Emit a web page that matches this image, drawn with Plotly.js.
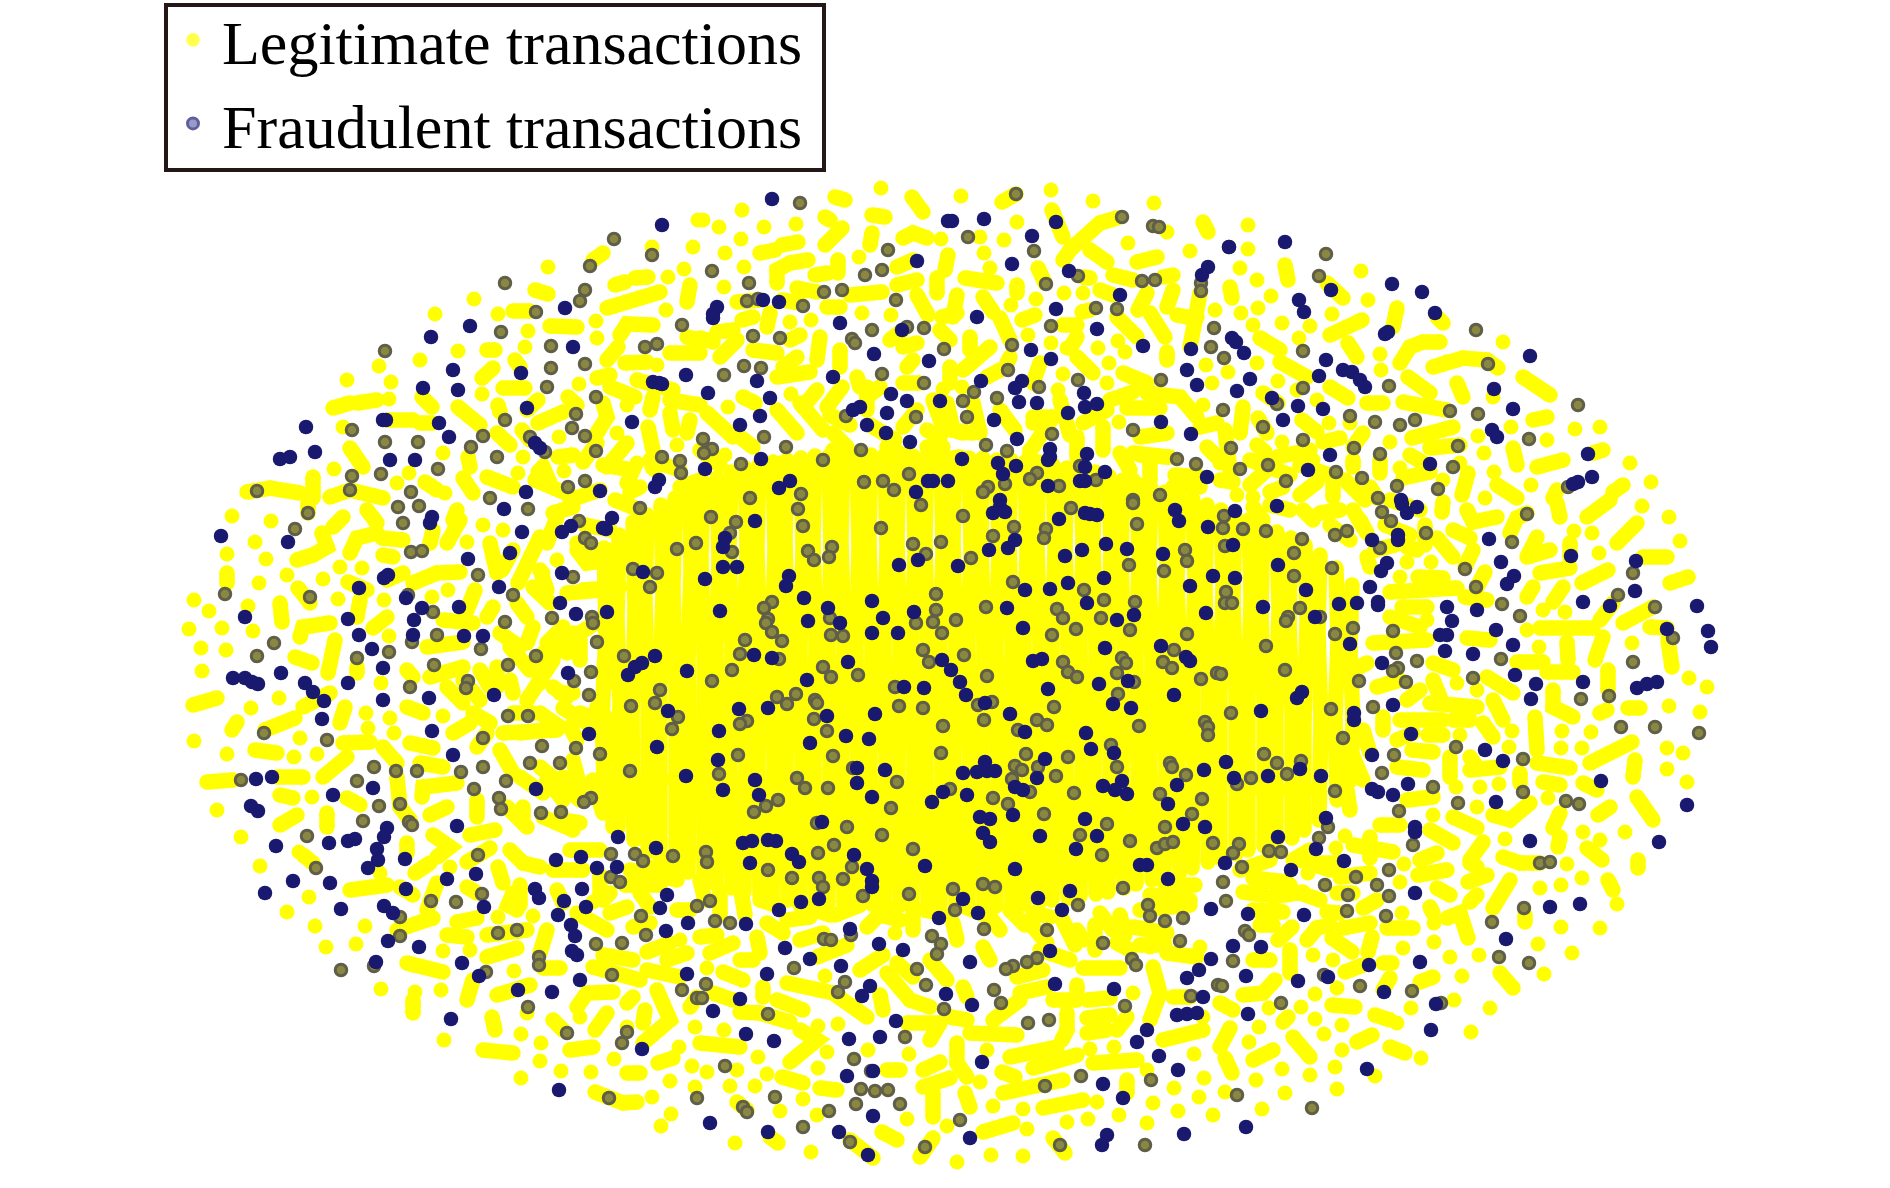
<!DOCTYPE html>
<html><head><meta charset="utf-8">
<script src="https://cdn.plot.ly/plotly-3.0.1.min.js"></script>
<style>html,body{margin:0;padding:0;background:#fff;overflow:hidden}#c{width:1890px;height:1195px;margin-top:-7px}</style>
</head><body><div id="c"></div>
<script>
const seriesNames = ["Legitimate transactions","Fraudulent transactions"];

const legitimateDots = [548,267,474,299,435,314,652,247,693,247,684,269,668,277,666,310,498,314,528,331,596,321,597,338,458,351,420,360,525,347,379,366,347,380,391,382,389,399,482,394,579,384,559,437,617,433,637,463,677,445,564,471,518,473,334,469,397,483,409,473,523,457,443,453,698,220,627,405,657,365,343,427,445,493,
881,188,961,196,1051,190,1093,201,1154,203,742,210,796,224,764,227,719,227,703,220,741,239,1017,222,1004,240,941,239,984,253,990,268,1128,243,1190,251,859,257,744,267,724,287,1036,299,1011,305,1064,293,862,313,891,315,790,322,811,320,1028,335,1098,348,1109,363,1063,374,1107,383,1058,390,1206,365,1203,405,1119,422,1083,293,1067,348,1051,343,1118,341,943,389,962,387,728,407,791,394,725,455,780,463,980,237,725,253,1167,232,1215,310,1125,352,1212,383,
232,516,271,521,255,542,227,554,266,559,287,575,259,583,323,579,340,567,362,568,194,600,209,611,248,606,338,599,189,629,222,628,253,631,201,648,226,650,202,671,389,636,384,600,279,698,251,708,366,713,390,718,368,728,394,733,443,716,300,738,194,741,227,754,294,757,317,754,381,683,312,797,217,810,483,525,467,542,448,590,432,597,503,530,557,560,543,573,520,813,
1642,506,1669,517,1680,541,1592,533,1599,553,1574,531,1431,562,1407,562,1400,577,1688,577,1689,678,1707,687,1669,706,1700,712,1632,643,1539,647,1543,610,1565,612,1457,683,1512,731,1509,747,1562,731,1591,732,1561,748,1582,748,1667,748,1667,769,1687,782,1499,784,1480,787,1456,787,1527,630,1427,620,1600,713,1477,690,1460,735,1683,753,1548,798,1433,815,1477,807,
241,837,260,866,299,852,309,897,287,912,315,926,365,926,326,947,356,944,381,989,441,990,415,992,444,1040,443,951,498,917,533,916,514,971,521,1034,541,1043,540,1061,521,1078,561,1071,591,1072,614,1059,679,1047,692,1066,670,1081,652,1097,671,1114,661,1126,380,873,450,867,470,950,527,1013,580,1017,627,1027,593,902,680,940,697,853,695,1027,695,1087,
735,1143,811,1152,991,1155,1023,1156,957,1162,1147,1123,1119,1115,1088,1119,1067,1122,1027,1129,993,1106,1023,1109,1097,1102,1153,1103,1178,1111,1213,1115,1199,1097,1174,1088,1204,1078,1194,1054,907,1119,780,1111,803,1099,730,1086,755,1086,767,1074,818,1068,758,1057,868,1050,909,1054,838,1024,818,1026,724,1030,895,933,707,968,1090,1049,1114,1047,947,1126,707,1072,825,976,737,1070,827,1052,980,1082,987,1050,817,1115,1147,1070,1133,993,1203,1017,1200,947,1150,947,
1505,839,1625,832,1583,832,1561,885,1582,878,1567,864,1540,888,1617,904,1600,928,1561,927,1538,944,1572,953,1544,974,1479,955,1450,957,1462,976,1434,942,1454,1000,1490,1008,1471,1032,1411,1008,1421,1058,1397,1023,1342,1025,1315,1019,1324,1034,1342,1050,1301,1007,1315,994,1337,988,1249,1042,1259,1027,1282,1069,1310,1075,1335,1067,1256,1080,1285,1093,1337,1089,1262,1109,1375,1076,1404,864,1400,882,1308,873,1336,848,1345,836,1403,948,1434,923,1225,1092,1269,1008,1600,840,1402,913,1313,955,1333,960,
1248,225,1248,249,1361,271,1240,268,1271,296,1368,300,1282,323,1310,326,1299,338,1503,342,1380,354,1381,370,1630,463,1651,482,1600,427,1575,429,1511,427,1478,436,1547,440,1484,453,1494,472,1531,485,1400,468,1390,442,1329,423,1282,442,1241,313,1253,325,1332,314,1258,308,1228,372,1278,381,1485,498,1257,280,1493,397,1257,363,1297,390,1317,400,1350,423,1460,463,1443,480,1313,460,1237,495,1253,497,1220,463];

const legitimateRuns = [[593,260,603,253],[615,285,625,282],[635,278,648,277],[607,308,660,292],[690,285,687,302],[535,290,548,294],[513,311,530,311],[550,326,577,327],[620,335,627,324,653,325],[687,337,700,340],[607,360,618,347],[625,363,647,362],[482,378,493,368],[487,350,495,350],[515,360,520,367],[503,388,525,388],[597,378,610,375],[610,387,635,397],[637,380,673,390],[653,397,650,410],[670,400,700,405],[670,413,673,430],[648,427,653,450],[690,420,687,433],[627,443,607,467],[670,353,700,353],[333,408,350,403],[357,403,377,400],[422,397,432,407],[388,420,413,420],[420,423,433,423],[458,407,480,425],[498,405,500,412],[538,400,527,410],[538,423,563,412],[568,397,577,405],[603,403,607,417,597,433],[522,430,530,440],[497,433,510,445],[558,457,573,455],[538,472,543,467,550,483],[583,462,597,443],[603,465,633,470,627,483],[652,467,655,470],[350,448,363,467],[468,457,470,467],[487,477,513,487],[425,482,437,490],[463,478,473,493],[313,477,313,498],[247,492,270,488,300,493],[330,497,350,490,383,498],[630,492,640,487],[680,487,700,480],
[835,197,845,200],[912,197,923,212],[872,215,885,217],[825,217,830,220],[842,228,825,245],[872,233,870,245],[903,238,913,233,927,238],[1052,210,1063,237],[1002,202,1016,194],[1063,260,1070,250,1100,223,1117,218],[1090,250,1107,262],[1203,222,1208,232],[1137,262,1157,257],[760,253,775,250],[782,245,798,242],[777,283,777,270,790,263,808,260],[815,275,828,273],[838,260,838,273],[897,267,913,260],[897,285,917,280],[948,255,945,270],[937,278,937,293],[965,278,997,283],[957,295,953,317],[983,297,993,312],[1017,285,1017,293],[1038,268,1045,283],[1113,275,1133,280],[1163,277,1173,275],[1173,290,1167,307],[1147,293,1138,310],[1083,277,1090,278],[1100,290,1113,295],[1082,312,1090,310],[1200,293,1197,317,1190,347],[1150,313,1165,337],[1117,317,1137,337],[1177,315,1187,317],[917,295,928,315],[942,317,957,313],[1000,318,1010,340],[1022,320,1035,315],[1063,325,1077,325],[1077,337,1070,348],[797,288,817,292],[850,295,882,292],[827,307,840,307],[737,302,760,300],[782,300,800,303],[742,320,753,317],[770,313,767,327],[717,332,733,330],[700,338,713,342],[800,335,790,340],[720,357,737,340],[753,350,777,353],[797,357,783,367],[820,337,817,360],[840,350,840,367],[777,377,810,372],[903,330,890,340],[903,347,917,343],[907,367,913,360],[903,383,920,383],[857,377,860,387],[880,387,867,397],[842,387,827,407],[817,390,803,407],[940,330,950,340],[970,337,970,350],[990,347,963,370],[950,367,950,383],[987,377,1000,370],[1010,357,1007,363],[1040,363,1033,383],[1077,357,1093,373],[1123,373,1147,383],[1110,400,1133,392],[1147,393,1180,397,1197,417],[1127,408,1160,408],[1140,437,1167,433],[1140,455,1170,457],[1167,352,1167,360],[1175,475,1200,477],[1200,427,1217,423],[1207,447,1217,457],[947,403,953,430,973,433],[1033,423,1047,420],
[308,503,308,513],[343,517,333,527],[367,510,377,523],[322,533,327,547,313,555,297,560],[227,573,227,583],[350,553,357,538,377,533],[382,538,403,540],[383,555,393,557],[348,582,367,590],[403,573,387,580],[298,588,310,603],[280,603,282,622],[387,617,373,628],[300,637,303,627,330,623],[295,657,312,663],[335,640,328,673],[357,667,357,673],[360,600,357,617],[413,583,437,573,460,572],[427,647,463,642],[443,620,473,623],[475,590,467,610],[493,607,487,617],[490,543,493,557,497,573],[453,520,457,510],[447,543,460,520],[433,530,430,543],[407,670,413,677],[430,677,463,667],[447,687,463,703],[473,713,490,723],[453,733,470,723],[477,747,487,733],[407,707,423,713],[410,743,433,748],[383,747,397,763],[420,763,443,767],[343,743,370,742],[323,777,347,757],[207,782,233,780],[277,777,303,777],[193,705,217,698],[232,730,237,722],[265,730,295,718],[255,750,277,753],[280,795,293,798],[347,798,360,805],[280,825,297,815],[327,813,327,827],[345,707,340,723],[330,693,303,707],[397,777,400,807,410,820],[422,797,423,787,457,783],[430,815,447,807],[477,800,477,817],[503,733,557,730],[500,750,513,773],[540,767,580,800],[523,807,523,817],[560,693,573,693],[563,708,593,727],[570,727,577,740],[500,633,520,647],[533,627,527,643],[527,700,540,683,553,660],[560,637,553,657],[533,587,550,603],[517,603,527,617],[577,550,587,563,610,560],[567,593,600,590],[518,583,540,537],[502,570,513,550],[553,513,573,507],[573,633,567,653],[513,693,510,680],[600,620,580,633],[610,663,610,683],[597,707,617,730],[593,780,603,813],[563,777,580,790],[563,820,580,823],[613,777,613,827],
[1467,510,1473,522,1497,517],[1443,502,1442,512],[1453,530,1470,538],[1437,538,1453,557],[1473,550,1465,567],[1510,533,1517,518,1527,513],[1557,503,1560,517],[1587,517,1610,500],[1617,543,1637,523],[1537,537,1527,557,1550,550],[1570,543,1570,557],[1643,557,1667,557],[1540,573,1570,568],[1582,583,1608,570],[1670,583,1688,577],[1418,577,1443,578],[1390,592,1457,588],[1402,607,1427,607],[1485,572,1477,587],[1465,597,1487,600],[1527,597,1533,587],[1553,602,1563,587],[1600,620,1613,603],[1623,623,1653,607],[1650,627,1667,628],[1540,628,1593,628],[1668,640,1672,667],[1603,637,1595,660],[1567,642,1568,660],[1467,638,1490,640],[1517,662,1543,662],[1547,672,1573,672],[1608,670,1608,690],[1487,677,1513,693],[1433,663,1453,670],[1433,680,1440,697],[1430,703,1477,707],[1493,700,1503,720],[1553,690,1553,707,1573,717],[1628,708,1640,708],[1600,713,1607,710],[1535,717,1537,750],[1400,720,1443,720],[1453,720,1470,720],[1428,735,1443,735],[1483,723,1493,737],[1412,750,1433,752],[1470,757,1477,767],[1450,757,1450,777],[1397,767,1423,770],[1470,770,1500,767],[1537,763,1570,768],[1520,773,1520,783],[1543,782,1560,785],[1590,763,1632,742],[1635,760,1633,777],[1583,783,1597,790],[1637,797,1653,820],[1598,815,1610,807],[1560,813,1553,828],[1493,815,1510,820,1530,803],[1453,817,1477,828],[1407,800,1433,797],[1380,825,1400,825],[1363,730,1370,753],[1353,757,1363,780],[1347,790,1350,810],[1383,717,1383,730],[1397,740,1413,733],[1337,743,1340,760],[1390,617,1420,627],[1373,643,1427,640],[1377,687,1400,680],[1407,700,1420,690],[1347,673,1367,663],[1370,567,1367,557],[1360,520,1367,533],[1407,547,1417,550],
[303,855,313,863],[407,843,407,853],[433,835,450,847,437,857],[415,873,430,863],[350,890,387,885],[400,887,413,895],[437,883,427,910],[467,862,490,848],[467,887,477,893],[498,867,503,883],[510,850,523,863,540,867],[513,893,508,905,517,910],[397,930,433,918],[457,922,477,918],[447,935,467,937],[487,957,517,948],[487,935,527,930],[407,963,413,965,443,972],[547,930,540,953],[543,968,560,968],[467,1000,473,980],[497,995,530,985],[413,1000,413,1013],[492,1017,495,1030],[483,1050,513,1053],[570,1050,593,1047],[553,1020,563,1030],[577,1007,587,993,613,992],[595,1030,607,1013],[627,1003,633,997],[643,1043,670,1020,657,990],[645,1010,643,1023],[658,1063,673,1058],[627,1073,640,1073],[595,1092,623,1103,637,1102],[553,870,583,870],[557,890,563,903],[577,913,607,930],[603,900,610,893],[610,913,627,907],[633,927,650,923],[603,955,633,960],[593,967,640,980],[647,952,670,943],[667,960,687,953],[647,970,680,977],[630,870,677,880],[640,893,650,907],[677,910,690,910],[690,1007,697,997],
[700,1043,740,1047],[740,1012,760,1013,790,1022],[777,1000,803,1010],[787,983,833,993,867,1017],[713,993,733,1000],[723,972,743,980],[763,987,763,997],[710,953,733,943],[700,937,717,935],[740,960,753,960],[757,937,760,953],[767,923,783,933],[787,920,810,917],[800,940,823,933],[817,957,847,945],[800,1030,817,1040,790,1062],[782,1077,803,1083],[820,1088,837,1090],[737,1102,747,1110],[770,1137,778,1143],[850,1140,873,1158],[882,1132,897,1140],[920,1157,933,1138],[923,1070,940,1062],[887,1070,900,1070],[923,1087,950,1078],[933,1093,933,1117],[957,1043,957,1063,967,1077],[965,1093,970,1107],[1002,1072,1015,1077],[970,1033,1017,1035],[1010,1057,1057,1047],[1033,1068,1077,1055],[1003,1093,1063,1080],[1043,1108,1083,1100],[983,1132,1013,1123],[1053,1138,1065,1153],[1093,1063,1137,1060],[1087,1033,1107,1030],[1087,1018,1110,1015],[1087,1000,1110,998],[1077,985,1077,990],[1083,968,1120,968],[1053,1000,1077,1000],[1067,1013,1067,1030,1062,1040],[993,1020,1020,1000],[1020,993,1047,987],[1017,977,1043,970],[1153,967,1160,993,1150,1020],[1117,1030,1127,1017],[1127,1080,1127,1093],[1163,1040,1203,1030],[1173,997,1190,997],[887,973,910,1000,930,1007],[880,995,883,1010],[907,1023,940,1023,930,1040],[860,970,883,955],[897,963,913,977],[930,960,947,980],[963,987,967,997],[950,1017,967,1020],[983,947,990,960],[1033,913,1050,917],[990,917,1000,930],[1100,913,1113,930],[1077,930,1083,940],[1117,943,1130,950],[1133,927,1167,933],[1167,953,1197,957],[1033,927,1047,943],[953,923,957,940],[913,907,913,930],[867,927,887,907],
[1560,837,1558,847],[1587,848,1602,860],[1638,860,1638,868],[1608,880,1613,890],[1503,857,1520,863,1540,863],[1470,860,1483,842],[1470,863,1477,867],[1468,882,1487,875],[1510,880,1493,908],[1470,902,1477,895],[1525,915,1525,922],[1447,918,1460,913,1468,938],[1430,907,1433,913],[1437,888,1450,895],[1418,875,1447,870],[1420,860,1437,853],[1430,830,1453,843],[1353,845,1393,852],[1370,837,1370,858],[1340,877,1370,873],[1313,863,1340,863],[1293,860,1310,850],[1300,893,1320,900],[1272,897,1303,892],[1243,892,1263,895],[1253,878,1287,882],[1253,910,1283,912],[1260,925,1273,925],[1278,940,1292,927],[1307,940,1317,928,1330,925],[1327,912,1340,913],[1337,893,1353,893],[1363,908,1377,900],[1343,928,1370,923],[1332,938,1352,952],[1372,937,1368,952],[1387,928,1413,928],[1290,950,1290,973],[1253,960,1270,960],[1243,995,1263,993,1275,980],[1220,1003,1233,1010],[1345,972,1363,965],[1383,963,1392,963],[1390,978,1383,990],[1420,982,1433,977],[1500,973,1513,988],[1332,1005,1355,1007],[1375,1015,1390,1020],[1283,1022,1288,1017],[1293,1037,1310,1057],[1357,1042,1372,1035],[1390,1047,1405,1053],[1230,1028,1220,1047],[1253,1060,1273,1050],[1225,1058,1232,1073],
[1285,265,1288,280],[1327,283,1343,298],[1230,287,1232,298],[1397,308,1393,327],[1437,317,1443,323],[1330,335,1362,320],[1348,343,1357,357],[1260,338,1280,350],[1400,363,1410,347,1423,342,1440,342],[1408,377,1430,393],[1433,367,1447,362,1463,358,1487,360,1498,368],[1457,383,1463,397],[1523,377,1550,395],[1280,362,1307,377],[1330,387,1348,398],[1367,403,1383,403],[1403,402,1447,410],[1263,393,1278,403],[1243,407,1240,433],[1258,418,1267,433],[1302,420,1317,432],[1323,442,1340,438],[1363,433,1353,447],[1412,438,1453,427],[1430,448,1460,445],[1533,420,1547,417],[1513,448,1517,465],[1537,467,1563,460],[1593,453,1603,450],[1613,492,1623,485],[1410,455,1427,465],[1468,473,1462,495],[1403,478,1430,472],[1257,445,1265,452],[1277,457,1310,450],[1250,485,1270,467],[1270,492,1283,487],[1300,495,1317,482],[1333,480,1333,497],[1353,460,1353,467],[1380,460,1380,473],[1370,487,1377,498],[1497,485,1517,498],[1557,490,1553,498],[1220,480,1233,482]];

const legitimateBand = [[777,410,797,433],[800,403,823,430],[833,433,847,447],[740,437,753,447],[707,413,733,437],[743,397,755,403],[867,387,867,410],[903,427,917,410],[927,430,940,437],[933,400,943,427,963,433],[973,403,980,433],[1033,417,1053,417,1033,447],[1083,423,1107,410],[1103,427,1103,450],[1077,437,1077,457],[1120,453,1130,470],[1030,450,1030,463],[887,447,913,460],[833,450,847,450],[837,463,873,463],[927,447,943,447],[920,463,960,457],[987,463,987,487],[1133,453,1167,457],[1150,463,1150,480],[1173,487,1200,487],[1133,480,1140,498],[830,415,850,425],[870,425,895,440],[1000,410,1015,430],[1060,400,1070,435],[650,460,680,470],[700,450,720,465],
[1225,430,1230,470],[1253,507,1263,520],[1303,510,1313,520],[1320,513,1340,510],[1353,510,1363,527],[1250,460,1290,475],[1300,465,1330,475],[1345,480,1365,500],[1270,505,1290,510],[1390,500,1420,510],[1385,525,1410,535],[1375,550,1395,545],[1425,525,1425,545],[1330,525,1350,540],
[557,517,547,543],[577,543,600,560],[607,550,630,557],[540,570,547,590],[583,590,620,587],[547,643,563,627],[580,640,580,660],[527,667,547,650],[553,687,567,697],[540,713,560,727],[520,733,543,730],[580,713,600,720],[547,780,563,800],[573,760,580,787],[610,733,610,757],[623,740,623,763],[520,777,543,793],[507,807,527,827],[543,817,573,830],[463,680,480,700],[497,667,497,687],[513,713,533,713],[510,647,530,670],[480,670,490,687],[570,500,600,490],[615,500,640,510],[535,480,570,495],[585,525,610,530],[470,835,495,830],
[1060,915,1075,945],[1040,950,1070,960],[1095,925,1095,950],[1120,915,1125,935],[1140,945,1165,945],[1260,880,1290,885],[1240,870,1270,860],[1300,860,1330,870],[600,875,600,895],[625,885,660,885],[570,850,600,850],[520,885,520,905],[640,870,680,862],[700,880,705,900],[720,890,720,915],[740,885,745,915],[760,900,775,905],[800,905,830,915],[835,915,860,905],[880,915,900,920],[925,910,945,915],[960,905,985,915],[1010,910,1025,925],[1150,895,1190,900],[1165,885,1195,885],[1140,910,1190,905]];

const legitimateCore = [[604,548,606,630,602,720,605,812],[619,535,617,620,620,700,618,828],[633,522,635,610,632,720,634,840],[647,515,645,600,648,700,646,780,648,852],[661,505,663,590,660,690,662,780,660,858],[675,498,673,590,676,680,674,780,676,866],[689,490,691,570,688,660,690,770,688,872],[703,482,701,560,704,650,702,770,704,878],[717,478,719,560,716,650,718,760,716,884],[731,472,729,550,732,650,730,760,732,888],[745,468,747,550,744,640,746,760,744,892],[759,465,757,550,760,650,758,770,760,895],[773,462,775,550,772,640,774,760,772,898],[787,460,785,540,788,640,786,770,788,900],[801,458,803,550,800,650,802,760,800,902],[815,456,813,540,816,640,814,770,816,902],[829,456,831,550,828,650,830,770,828,903],[843,455,841,540,844,640,842,760,844,903],[857,455,859,550,856,650,858,770,856,904],[871,455,869,540,872,650,870,760,872,904],[885,455,887,550,884,640,886,770,884,905],[899,456,897,540,900,650,898,770,900,905],[913,456,915,550,912,640,914,760,912,906],[927,456,925,540,928,650,926,770,928,906],[941,456,943,550,940,640,942,770,940,906],[955,458,953,540,956,650,954,760,956,906],[969,458,971,550,968,640,970,770,968,906],[983,458,981,540,984,650,982,760,984,906],[997,460,999,550,996,640,998,770,996,906],[1011,460,1009,540,1012,650,1010,770,1012,905],[1025,462,1027,550,1024,640,1026,760,1024,904],[1039,462,1037,540,1040,650,1038,770,1040,902],[1053,465,1055,550,1052,640,1054,770,1052,900],[1067,468,1065,540,1068,650,1066,760,1068,898],[1081,470,1083,550,1080,640,1082,770,1080,896],[1095,472,1093,540,1096,650,1094,770,1096,894],[1109,476,1111,550,1108,640,1110,760,1108,892],[1123,480,1121,560,1124,650,1122,770,1124,888],[1137,484,1139,560,1136,660,1138,770,1136,884],[1151,488,1149,570,1152,660,1150,760,1152,880],[1165,492,1167,570,1164,670,1166,770,1164,876],[1179,496,1177,580,1180,670,1178,770,1180,872],[1193,500,1195,580,1192,680,1194,770,1192,868],[1207,505,1205,590,1208,680,1206,780,1208,862],[1221,510,1223,590,1220,690,1222,780,1220,858],[1235,515,1233,600,1236,690,1234,780,1236,854],[1249,520,1251,600,1248,700,1250,790,1248,850],[1263,526,1261,610,1264,700,1262,790,1264,846],[1277,532,1279,610,1276,710,1278,790,1276,842],[1291,538,1289,620,1292,710,1290,790,1292,838],[1305,545,1307,620,1304,720,1306,790,1304,830],[1320,555,1318,630,1321,720,1319,820],[1336,568,1338,640,1335,720,1337,800],[1352,585,1350,650,1353,720,1351,780]];

const fraudSolid = [662,225,470,326,431,337,565,308,573,347,453,370,521,373,686,375,653,382,659,383,662,384,423,388,458,390,527,408,386,420,383,420,439,423,632,422,306,427,449,437,535,443,540,448,315,452,280,459,290,457,390,460,415,460,659,480,655,487,600,491,526,492,
772,199,948,221,952,221,984,219,1056,222,1032,236,917,261,1012,264,1069,271,1208,267,1202,275,763,300,779,302,1120,295,717,307,713,314,713,318,1056,309,977,317,840,323,902,330,1097,329,1031,350,1143,346,1191,349,874,354,929,361,1051,359,833,377,1187,370,757,381,981,381,1022,381,1015,388,1197,385,708,393,891,394,1084,393,770,398,907,401,940,401,1019,402,1037,403,1085,407,1097,404,860,407,853,410,1068,413,887,413,760,416,994,420,867,425,740,425,1161,422,1191,434,886,433,1017,439,910,442,1050,449,1050,457,1048,460,1087,454,761,459,962,459,705,469,998,463,1016,466,1003,474,1085,467,1207,477,1105,472,1080,481,1085,481,1048,486,790,481,779,488,933,481,928,481,948,481,916,492,1000,500,
1285,242,1229,247,1392,284,1422,292,1331,290,1299,300,1304,312,1435,313,1388,332,1385,334,1232,338,1236,342,1244,353,1326,360,1530,356,1343,370,1352,372,1360,380,1365,387,1319,376,1250,379,1237,391,1494,389,1272,398,1298,406,1323,409,1513,409,1283,420,1492,430,1497,437,1588,454,1330,455,1430,464,1308,470,1592,477,1578,482,1573,484,1401,500,
504,509,432,517,430,523,612,518,606,529,603,528,571,526,562,532,522,532,221,536,288,542,510,553,468,559,562,573,643,572,384,578,388,575,359,588,499,587,406,598,560,603,459,607,422,608,576,614,607,612,245,617,348,619,414,620,359,635,413,635,464,636,483,636,372,649,655,656,383,668,628,675,635,667,642,663,687,671,281,673,233,678,245,678,252,682,258,684,305,683,313,692,324,701,568,673,348,683,494,695,429,698,383,700,668,711,322,719,432,731,589,734,657,747,453,755,686,776,256,779,272,777,373,788,536,789,333,795,251,806,258,811,387,828,457,826,
755,521,993,513,1000,507,1005,512,1059,519,1085,513,1090,514,1097,515,1175,510,1179,521,1208,527,725,538,723,547,1015,540,1008,548,989,550,958,566,1106,544,1082,550,1127,549,1065,556,1163,554,918,560,899,565,723,567,737,567,705,579,789,576,786,586,1104,578,1213,576,1068,583,1190,586,1025,590,1050,589,804,598,872,601,1087,603,828,608,1007,608,720,611,914,612,1206,613,1134,615,1117,620,883,618,808,621,840,623,1023,628,872,633,898,633,1161,646,1105,648,754,655,772,658,1186,657,1190,661,942,660,848,662,1033,661,1042,659,951,670,807,680,960,682,1128,681,1099,684,1048,689,924,688,904,687,966,695,1174,695,985,703,1113,704,1131,708,739,709,768,708,1010,714,875,714,827,716,719,731,1025,732,1086,733,846,736,869,739,810,743,1091,749,1114,753,1045,759,718,760,985,762,963,773,977,772,995,771,987,771,857,768,885,770,1204,770,755,780,1037,778,857,783,1122,781,1103,786,1115,790,1127,794,1177,785,1015,787,1023,790,723,790,943,792,759,795,967,795,872,797,932,802,1168,804,1013,815,980,817,990,819,822,822,1085,819,1183,824,1205,827,
1235,511,1277,506,1372,540,1398,535,1398,540,1402,504,1407,513,1417,507,1489,539,1233,545,1278,565,1387,563,1381,571,1501,562,1571,556,1636,561,1235,578,1306,590,1370,587,1514,576,1507,584,1635,591,1583,602,1610,606,1697,606,1263,607,1339,604,1357,603,1378,602,1378,605,1447,607,1477,610,1315,617,1452,621,1667,629,1708,631,1711,647,1440,635,1447,635,1496,630,1350,644,1513,645,1445,651,1473,654,1382,663,1515,675,1536,684,1583,682,1637,688,1647,684,1657,682,1302,692,1297,698,1531,699,1393,705,1261,711,1354,713,1354,720,1411,734,1485,750,1372,755,1503,761,1226,762,1300,769,1268,776,1321,776,1234,778,1601,781,1408,784,1372,789,1378,792,1393,795,1496,802,1687,805,1326,818,1415,827,
276,846,329,843,348,841,355,839,384,837,377,849,378,860,368,868,405,859,618,837,556,860,581,857,617,867,597,868,656,848,476,874,447,879,293,881,330,883,406,889,535,889,539,898,582,889,265,893,667,895,564,901,484,907,586,907,341,909,384,906,393,913,660,908,558,915,688,923,571,925,575,936,666,931,388,941,419,947,572,951,577,955,376,962,462,963,479,976,687,974,580,980,518,990,552,992,451,1019,642,1049,559,1090,
743,843,752,841,768,840,776,841,792,854,799,862,750,863,854,855,983,833,990,842,1040,836,1097,836,1076,849,925,866,1015,869,867,869,1140,865,1147,865,872,881,872,887,1168,879,1070,891,819,899,801,902,963,899,1038,898,1211,909,779,910,978,913,1062,910,939,918,746,924,850,929,879,944,785,948,903,950,1050,951,810,959,970,962,1211,959,1199,970,1187,978,841,966,767,974,870,986,862,996,1055,984,946,994,1114,989,1203,997,740,999,972,1005,713,1011,1177,1015,1187,1014,1197,1013,896,1021,1147,1030,746,1034,880,1037,849,1039,774,1041,1137,1042,1159,1056,982,1062,873,1071,1178,1070,847,1076,1103,1084,1123,1098,873,1116,710,1123,768,1132,839,1132,970,1138,1107,1135,1102,1145,1184,1134,868,1155,
1278,837,1316,849,1225,863,1344,861,1291,870,1415,832,1530,841,1659,842,1415,893,1550,907,1580,904,1248,914,1304,915,1506,939,1233,946,1261,947,1420,962,1369,965,1246,976,1328,977,1298,981,1384,992,1436,1004,1248,1014,1431,1030,1367,1069,1246,1127];

const fraudRinged = [614,239,652,255,590,266,505,283,585,290,580,301,536,312,501,332,682,325,657,344,645,347,551,346,385,351,585,364,551,368,547,387,596,397,576,414,505,420,352,430,572,428,585,436,483,436,530,437,545,452,418,442,385,442,471,447,596,451,497,457,662,457,680,461,438,469,381,474,352,476,681,473,585,481,350,490,257,491,568,487,411,492,490,498,
800,203,1016,194,1122,217,1153,226,1159,227,968,237,888,250,1034,251,1078,276,882,270,865,275,712,271,1201,283,1201,291,1142,281,1155,280,749,283,1046,284,842,290,824,292,747,301,758,299,803,306,896,300,1096,308,1117,309,1051,326,753,336,780,338,872,330,907,327,924,328,1214,328,852,339,855,343,1012,345,1211,347,944,349,744,366,761,368,724,375,882,374,1008,370,924,383,1078,380,1161,380,1039,387,974,392,997,398,963,401,846,416,916,417,967,417,1133,430,1052,434,764,437,703,439,986,445,786,447,712,449,704,453,861,450,1007,451,823,460,1177,459,741,464,1196,464,1080,466,909,474,1037,473,1030,479,1096,480,1059,486,864,482,883,481,894,490,988,487,983,492,1005,484,801,494,750,498,1160,495,1133,500,
1229,247,1326,254,1319,276,1476,330,1303,351,1224,358,1488,364,1303,388,1389,386,1277,404,1223,410,1450,411,1578,405,1478,414,1350,416,1375,422,1400,425,1415,420,1263,427,1303,440,1529,439,1231,448,1354,448,1458,446,1380,454,1268,465,1240,469,1336,472,1453,467,1568,487,1286,481,1362,478,1397,486,1438,489,1378,498,
398,507,419,506,528,509,640,508,308,513,403,523,295,529,579,521,585,538,591,543,677,549,696,543,411,552,422,551,573,577,633,569,657,573,478,575,650,587,225,594,310,597,513,595,408,595,433,612,592,617,593,623,552,618,505,622,412,642,437,635,597,642,274,643,389,652,481,649,624,656,257,656,357,658,536,656,434,665,508,665,591,672,574,681,410,687,468,681,466,688,660,690,589,695,655,703,678,717,631,706,508,716,528,716,672,729,264,733,483,738,327,740,542,746,576,748,600,754,560,763,530,763,374,767,396,771,417,771,483,767,461,772,630,771,241,780,357,781,506,781,474,789,499,798,501,809,591,798,584,802,379,806,400,804,541,813,561,812,363,821,409,822,412,825,
921,505,798,509,711,517,736,522,803,526,881,528,963,516,1071,508,1133,503,1137,524,1014,527,993,536,1046,529,1044,538,730,533,732,552,913,544,941,542,832,547,808,551,829,557,814,560,971,558,1185,550,1187,561,926,554,1129,565,1164,571,1013,582,1084,590,936,594,1104,600,1135,602,772,602,764,608,986,607,1057,609,936,610,1063,618,1101,618,830,618,768,619,766,623,956,620,933,622,916,623,1076,629,1130,630,772,632,942,633,831,635,843,636,1052,635,1187,634,745,640,782,641,1174,650,923,650,740,654,779,659,964,655,929,662,1122,658,1126,663,1163,662,1063,662,823,667,1172,668,732,670,1068,672,1117,673,831,677,858,675,1077,677,987,676,1217,673,1201,679,712,681,1134,682,895,687,1118,694,796,694,777,697,992,702,978,705,787,704,815,700,817,703,899,706,923,708,1054,707,814,719,747,721,740,724,984,720,1037,720,1047,725,943,726,1139,726,1205,722,1208,727,1208,735,827,731,1018,730,1111,745,941,753,1026,754,738,755,833,756,1068,757,1015,766,1022,770,1038,767,1170,763,1172,767,1117,767,853,768,719,774,1186,775,797,778,1056,776,1012,779,897,782,1030,792,805,788,828,788,950,789,1074,793,1160,794,778,800,993,798,1202,799,766,806,891,808,1008,804,754,812,1044,814,1192,814,817,823,1107,824,1165,827,847,827,
1224,516,1223,528,1243,529,1266,531,1302,539,1335,535,1347,531,1382,512,1391,521,1426,533,1527,514,1512,542,1380,548,1225,546,1294,553,1332,568,1465,569,1294,576,1633,573,1476,587,1226,592,1618,595,1225,603,1232,603,1300,608,1502,604,1655,607,1520,616,1320,617,1288,617,1286,621,1353,628,1393,631,1673,638,1335,634,1266,646,1396,653,1501,659,1417,661,1633,662,1398,668,1393,671,1285,670,1221,674,1473,678,1359,681,1406,682,1609,696,1581,699,1331,709,1373,707,1231,713,1621,727,1655,727,1699,733,1343,738,1456,747,1264,754,1394,755,1523,759,1277,763,1301,761,1382,773,1287,774,1251,778,1237,784,1433,787,1335,791,1523,792,1566,801,1579,804,1458,803,1399,811,1328,827,
307,836,478,855,611,854,635,854,643,861,673,856,316,868,611,877,620,882,482,894,431,901,456,902,697,906,400,917,641,916,517,930,498,933,646,935,400,936,596,944,622,943,539,957,539,965,374,966,341,970,486,972,612,975,682,990,697,998,528,1007,567,1033,627,1032,622,1043,609,1098,697,1098,
706,852,707,862,768,870,834,845,818,853,882,835,913,849,1080,835,1102,855,1130,841,1157,848,1165,844,1173,842,1213,843,792,878,819,878,852,867,843,879,823,887,953,889,983,884,995,887,909,894,863,896,1123,888,710,901,1078,905,1148,905,1150,916,955,910,1183,918,1165,921,715,921,730,923,984,929,1047,930,851,935,932,936,941,944,824,939,831,940,1103,943,1180,941,937,954,1037,958,1027,962,1132,959,1136,965,1013,966,1006,969,794,968,917,969,845,982,838,992,706,984,926,985,994,990,1218,985,1191,996,702,998,1001,1003,944,1009,1125,1006,768,1014,1028,1023,1049,1020,905,1037,854,1059,725,1066,871,1071,1081,1076,1151,1080,1045,1086,861,1089,875,1091,888,1090,775,1097,743,1107,747,1112,856,1104,900,1104,829,1111,960,1120,803,1127,850,1142,925,1147,1145,1145,1060,1145,
1239,844,1319,838,1233,853,1269,851,1281,852,1242,867,1413,845,1540,863,1550,862,1389,870,1356,877,1223,882,1325,885,1377,885,1348,895,1389,896,1226,901,1524,908,1347,911,1386,916,1492,922,1245,931,1249,935,1499,957,1233,961,1529,963,1324,975,1360,986,1222,986,1412,991,1441,1003,1281,1003,1237,1095,1312,1108];

function unpack(flat){const x=[],y=[];for(let i=0;i<flat.length;i+=2){x.push(flat[i]);y.push(flat[i+1]);}return {x,y};}
function joinRuns(runs){const x=[],y=[];runs.forEach(r=>{const p=unpack(r);x.push(...p.x,null);y.push(...p.y,null);});return {x,y};}

const YELLOW='#ffff00', NAVY='#191970', DOT=15, RUN=15.5, CORE=15.4;
const core=joinRuns(legitimateCore), runs=joinRuns(legitimateRuns.concat(legitimateBand)), dots=unpack(legitimateDots), solid=unpack(fraudSolid), ring=unpack(fraudRinged);
const base={type:'scatter',hoverinfo:'skip',showlegend:false};
const traces=[
 {type:'scatter',x:[null],y:[null],mode:'markers',name:seriesNames[0],marker:{size:13,color:'rgba(255,255,0,0.7)',line:{width:1.5,color:'rgba(255,255,100,0.5)'}}},
 {type:'scatter',x:[null],y:[null],mode:'markers',name:seriesNames[1],marker:{size:11,color:'#9a9ac8',line:{width:3,color:'#5f5fa0'}}},
 {...base,x:core.x,y:core.y,mode:'lines+markers',line:{color:YELLOW,width:CORE},marker:{color:YELLOW,size:CORE}},
 {...base,x:runs.x,y:runs.y,mode:'lines+markers',line:{color:YELLOW,width:RUN},marker:{color:YELLOW,size:RUN}},
 {...base,x:dots.x,y:dots.y,mode:'markers',marker:{color:YELLOW,size:DOT}},
 {...base,x:ring.x,y:ring.y,mode:'markers',marker:{color:'#8a8840',size:11.5,line:{width:3,color:'#5f5e48'}}},
 {...base,x:solid.x,y:solid.y,mode:'markers',marker:{color:NAVY,size:14.5}}
];
const layout={width:1890,height:1195,margin:{l:0,r:0,t:7,b:0},paper_bgcolor:'#fff',plot_bgcolor:'#fff',
 xaxis:{range:[0,1890],visible:false,fixedrange:true},
 yaxis:{range:[1188,0],visible:false,fixedrange:true},
 shapes:[{type:'rect',xref:'paper',yref:'paper',x0:166/1890,x1:824/1890,y0:1-5/1188,y1:1-170/1188,line:{color:'#231815',width:4},fillcolor:'#fff',layer:'above'}],
 legend:{x:164/1890,xanchor:'left',y:1+7/1188,yanchor:'top',borderwidth:0,bgcolor:'rgba(0,0,0,0)',
   font:{family:'"Liberation Serif","Times New Roman",serif',size:62,color:'#000'},itemwidth:48,traceorder:'normal'}
};
Plotly.newPlot('c',traces,layout,{displayModeBar:false,staticPlot:true});
</script></body></html>
